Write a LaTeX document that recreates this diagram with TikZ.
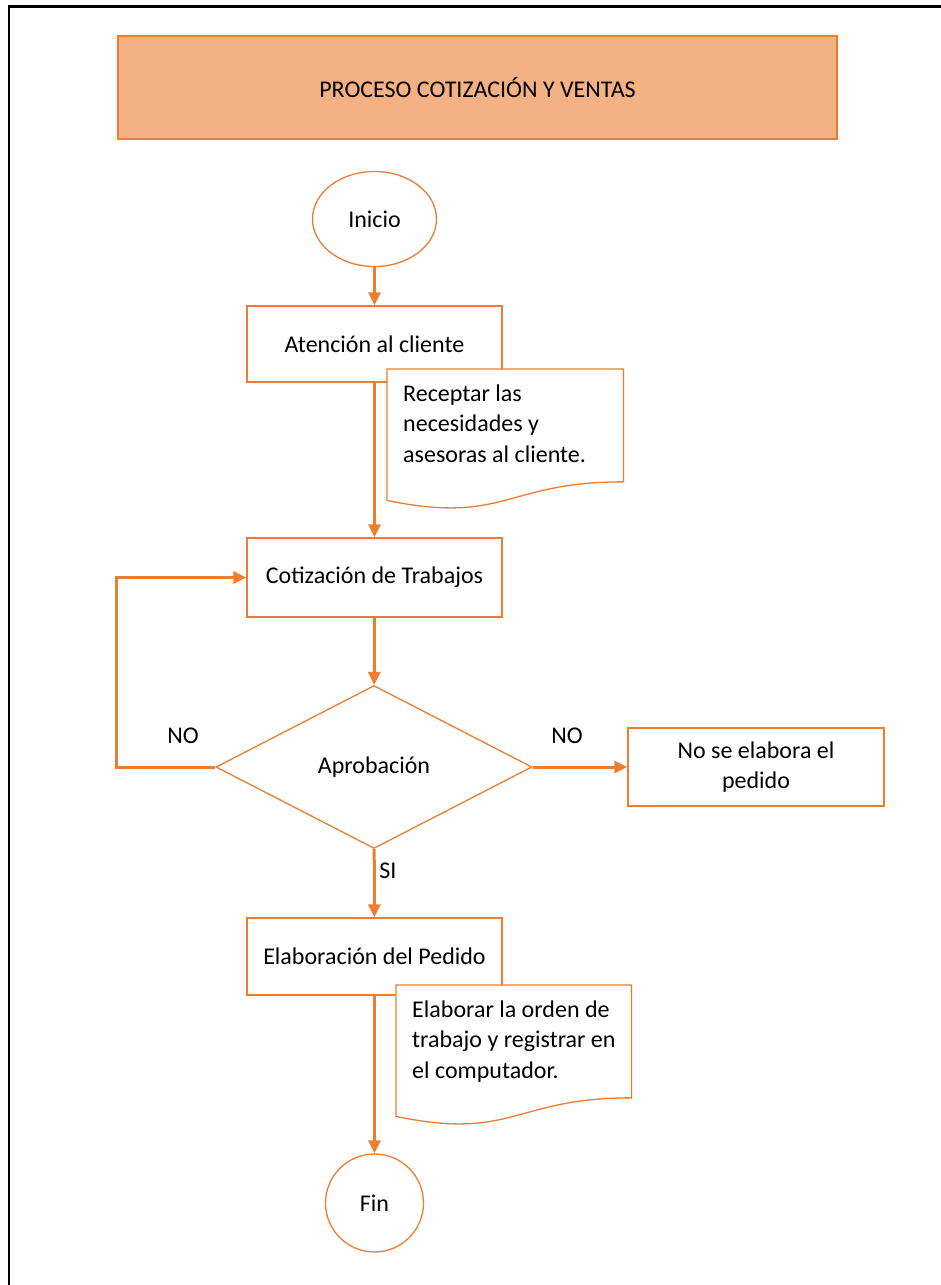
\documentclass[tikz,border=0pt]{standalone}
\usepackage{fontspec}
\setmainfont{Carlito}
\usetikzlibrary{arrows.meta,shapes.geometric,calc}
\definecolor{flowline}{HTML}{ED7D31}
\definecolor{titlefill}{HTML}{F4B183}

% wavy-bottom document frame on top of a sized rectangle node
\newcommand\docframe[1]{%
  \draw[flowline, line width=1.3pt, fill=white]
    (#1.north west) -- (#1.north east)
    -- ($(#1.north east)!0.802!(#1.south east)$)
    .. controls ($(#1.north)!0.802!(#1.south)$) and ($(#1.north)!1.1075!(#1.south)$)
    .. ($(#1.north west)!0.934!(#1.south west)$) -- cycle;}

\begin{document}
\begin{tikzpicture}[x=1pt, y=-1pt,
  every node/.style={font=\fontsize{24}{30.5}\selectfont, text=black},
  procbox/.style={draw=flowline, line width=1.3pt, fill=white, rectangle,
    minimum width=255pt, minimum height=76pt, inner sep=0pt, align=center},
  termin/.style={draw=flowline, line width=1.3pt, fill=white, ellipse, inner sep=0pt},
  decision/.style={draw=flowline, line width=1.3pt, fill=white, diamond, inner sep=0pt,
    minimum width=316pt, minimum height=163pt},
  docshape/.style={rectangle, inner sep=0pt, minimum width=236pt, minimum height=140.3pt, anchor=north west},
  doctext/.style={anchor=base west, inner sep=0pt, align=left},
  flow/.style={draw=flowline, line width=3pt, -{Triangle[length=13pt,width=12pt]}},
  lbl/.style={inner sep=0pt}]

\useasboundingbox (0,0) rectangle (941,1285);

% page frame (left and top edges)
\draw[black, line width=2.8pt] (9,1285) -- (9,6.5) -- (941,6.5);

% title banner
\node[draw=flowline, line width=1.3pt, fill=titlefill, minimum width=719pt, minimum height=103pt,
  inner sep=0pt] (title) at (477.5,87.5) {PROCESO COTIZACIÓN Y VENTAS};

% main column
\node[termin, minimum width=124pt, minimum height=95pt] (inicio) at (374.5,219) {Inicio};
\node[procbox] (aten) at (374.5,344) {Atención al cliente};
\node[procbox, minimum height=79pt] (coti) at (374.5,577.5) {Cotización de Trabajos};
\node[decision] (aprob) at (374,767) {Aprobación};
\node[procbox, minimum height=77pt] (elab) at (374.5,956.5) {Elaboración del Pedido};
\node[termin, minimum width=98pt, minimum height=98pt] (fin) at (374.5,1203) {Fin};
\node[procbox, minimum width=256pt, minimum height=78pt] (nose) at (756,767)
  {No se elabora el\\pedido};

% connectors
\draw[flow] (inicio) -- (aten);
\draw[flow] (aten) -- (coti);
\draw[flow] (coti) -- (aprob);
\draw[flow] (aprob) -- (elab);
\draw[flow] (elab) -- (fin);
\draw[flow] (aprob.west) -- ++(-99,0) |- (coti.west);
\draw[flow] (aprob.east) -- (nose.west);

% branch labels
\node[lbl] (noleft) at (183,736) {NO};
\node[lbl] (noright) at (567,736) {NO};
\node[lbl] (si) at (388,871) {SI};

% document notes (base anchor sits on the last of the three lines)
\node[docshape] (doc1) at (387,369) {};
\docframe{doc1}
\node[doctext] (doc1text) at ([xshift=16pt,yshift=-93pt]doc1.north west)
  {Receptar las\\necesidades y\\asesoras al cliente.};

\node[docshape, minimum width=235pt] (doc2) at (396,985) {};
\docframe{doc2}
\node[doctext] (doc2text) at ([xshift=16pt,yshift=-93pt]doc2.north west)
  {Elaborar la orden de\\trabajo y registrar en\\el computador.};

\end{tikzpicture}
\end{document}
